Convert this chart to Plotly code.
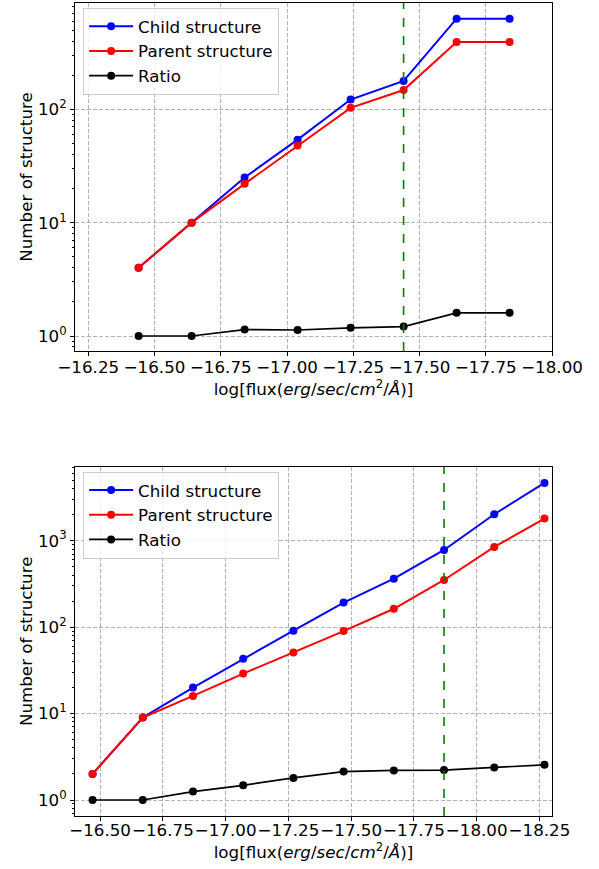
import plotly.graph_objects as go
from plotly.subplots import make_subplots

# ---------------- data ----------------
flux_top = [-16.44, -16.64, -16.84, -17.04, -17.24, -17.44, -17.64, -17.84]
child_top = [4, 10, 25, 54, 122, 178, 630, 630]
parent_top = [4, 10, 22, 48, 103, 148, 393, 393]
ratio_top = [1.0, 1.0, 1.14, 1.13, 1.18, 1.21, 1.6, 1.6]
vline_top = -17.44

flux_bot = [-16.47, -16.67, -16.87, -17.07, -17.27, -17.47, -17.67, -17.87, -18.07, -18.27]
child_bot = [2, 9, 20, 43, 91, 192, 363, 780, 2020, 4650]
parent_bot = [2, 9, 16, 29, 51, 90, 163, 351, 845, 1800]
ratio_bot = [1.0, 1.0, 1.25, 1.48, 1.8, 2.13, 2.2, 2.22, 2.38, 2.55]
vline_bot = -17.87

series_names = ["Child structure", "Parent structure", "Ratio"]
series_colors = ["#0000ff", "#ff0000", "#000000"]

FONT = "DejaVu Sans"
FS = 16.7

fig = make_subplots(rows=2, cols=1)

def add_panel(row, flux, child, parent, ratio, legend):
    for name, ys, col in zip(series_names, [child, parent, ratio], series_colors):
        fig.add_trace(go.Scatter(
            x=flux, y=ys, name=name, mode="lines+markers",
            line=dict(color=col, width=2 if col != "#000000" else 1.7),
            marker=dict(color=col, size=8),
            legend=legend, showlegend=True,
        ), row=row, col=1)

add_panel(1, flux_top, child_top, parent_top, ratio_top, "legend")
add_panel(2, flux_bot, child_bot, parent_bot, ratio_bot, "legend2")

xtitle = "log[flux(<i>erg</i>/<i>sec</i>/<i>cm</i><sup>2</sup>/<i>Å</i>)]"

def minor_vals(maxdec):
    return [m * 10 ** d for d in range(-1, maxdec + 1) for m in range(2, 10)]

axis_common = dict(
    showline=True, linecolor="black", linewidth=1, mirror=True,
    ticks="outside", ticklen=4, tickcolor="black", tickwidth=1,
    showgrid=True, gridcolor="#b0b0b0", griddash="4px,2px", gridwidth=0.8,
    zeroline=False, tickfont=dict(family=FONT, size=FS, color="black"),
    automargin=False,
)

fig.update_layout(
    width=599, height=869,
    margin=dict(l=75, r=47, t=3, b=53, autoexpand=False),
    paper_bgcolor="white", plot_bgcolor="white",
    font=dict(family=FONT, size=FS, color="black"),
    xaxis=dict(domain=[0, 1], range=[-16.2, -18.0], tickmode="linear", tick0=-16.25, dtick=0.25,
               tickformat=".2f", tickangle=0, ticklabelstandoff=-3,
               title=dict(text=xtitle, standoff=7, font=dict(family=FONT, size=FS)), **axis_common),
    yaxis=dict(domain=[0.572, 1.0], type="log", range=[-0.132, 2.938],
               tickvals=[1, 10, 100], ticktext=["10<sup>0</sup>", "10<sup>1</sup>", "10<sup>2</sup>"],
               minor=dict(tickmode="array", tickvals=minor_vals(3), ticks="outside", ticklen=2.5,
                          tickcolor="black", showgrid=False),
               title=dict(text="Number of structure", standoff=1, font=dict(family=FONT, size=FS)),
               **axis_common),
    xaxis2=dict(domain=[0, 1], range=[-16.40, -18.30], tickmode="linear", tick0=-16.5, dtick=0.25,
                tickformat=".2f", tickangle=0, ticklabelstandoff=-5,
                title=dict(text=xtitle, standoff=6, font=dict(family=FONT, size=FS)), **axis_common),
    yaxis2=dict(domain=[0.0, 0.4297], type="log", range=[-0.185, 3.856],
                tickvals=[1, 10, 100, 1000],
                ticktext=["10<sup>0</sup>", "10<sup>1</sup>", "10<sup>2</sup>", "10<sup>3</sup>"],
                minor=dict(tickmode="array", tickvals=minor_vals(4), ticks="outside", ticklen=2.5,
                           tickcolor="black", showgrid=False),
                title=dict(text="Number of structure", standoff=1, font=dict(family=FONT, size=FS)),
                **axis_common),
    legend=dict(x=0.017, y=0.994, xanchor="left", yanchor="top", itemwidth=44,
                bgcolor="rgba(255,255,255,0.8)", bordercolor="#cccccc", borderwidth=1,
                font=dict(family=FONT, size=FS)),
    legend2=dict(x=0.017, y=0.4235, xanchor="left", yanchor="top", itemwidth=44,
                 bgcolor="rgba(255,255,255,0.8)", bordercolor="#cccccc", borderwidth=1,
                 font=dict(family=FONT, size=FS)),
)

for xv, xref, yref in [(vline_top, "x", "y domain"), (vline_bot, "x2", "y2 domain")]:
    fig.add_shape(type="line", x0=xv, x1=xv, y0=0, y1=1, xref=xref, yref=yref,
                  line=dict(color="#008000", width=1.6, dash="dash"), layer="above")

fig.write_html("out.html", config={"displayModeBar": False},
               post_script="document.body.style.margin='0px';")
